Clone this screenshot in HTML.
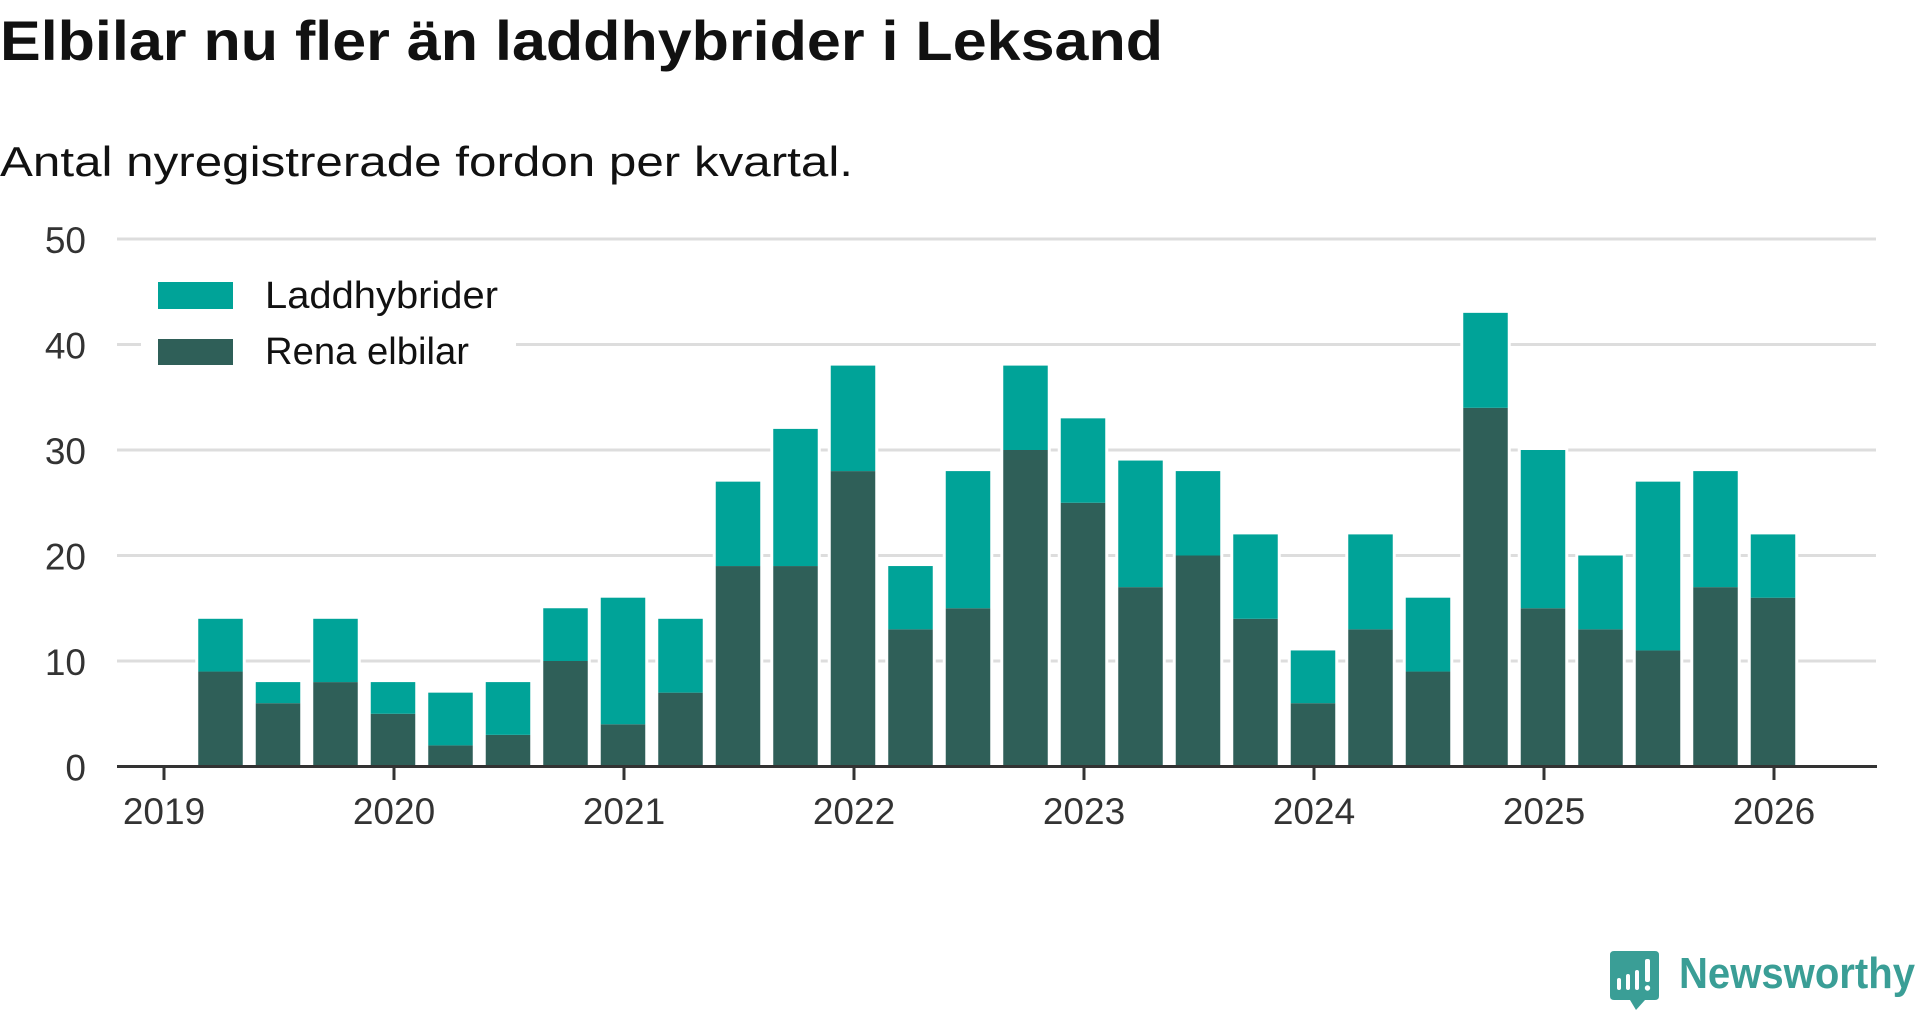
<!DOCTYPE html>
<html><head><meta charset="utf-8"><style>
html,body{margin:0;padding:0;background:#fff;width:1920px;height:1010px;overflow:hidden}
svg{display:block}
text{font-family:"Liberation Sans","DejaVu Sans",sans-serif}
</style></head><body>
<svg id="chart" width="1920" height="1010" viewBox="0 0 1920 1010" xmlns="http://www.w3.org/2000/svg">
<text x="0" y="60" font-size="56" font-weight="bold" fill="#111" textLength="1163" lengthAdjust="spacingAndGlyphs">Elbilar nu fler än laddhybrider i Leksand</text>
<text x="0" y="176" font-size="42" fill="#111" textLength="853" lengthAdjust="spacingAndGlyphs">Antal nyregistrerade fordon per kvartal.</text>
<g id="grid"></g>
<g id="bars"></g>
<g id="axes"></g>
<g>
<rect x="141" y="272" width="375" height="104" fill="#fff"/>
<rect x="158" y="282" width="75" height="27" fill="#00a398"/>
<text x="265" y="308" font-size="38" fill="#111" textLength="233" lengthAdjust="spacingAndGlyphs">Laddhybrider</text>
<rect x="158" y="339" width="75" height="26" fill="#2f5f58"/>
<text x="265" y="364" font-size="38" fill="#111" textLength="204" lengthAdjust="spacingAndGlyphs">Rena elbilar</text>
</g>
<g>
<path d="M1614 951 H1655 Q1659 951 1659 955 V996 Q1659 1000 1655 1000 H1645 L1636 1010 L1630 1000 H1614 Q1610 1000 1610 996 V955 Q1610 951 1614 951 Z" fill="#3a9e96"/>
<rect x="1617" y="978" width="4" height="12" rx="2" fill="#fff"/>
<rect x="1626" y="974" width="4" height="16" rx="2" fill="#fff"/>
<rect x="1635" y="970" width="4" height="20" rx="2" fill="#fff"/>
<rect x="1645" y="959" width="5" height="23" rx="2" fill="#fff"/>
<circle cx="1647.5" cy="988" r="2.7" fill="#fff"/>
<text x="1679" y="988" font-size="44" font-weight="bold" fill="#3a9e96" textLength="236" lengthAdjust="spacingAndGlyphs">Newsworthy</text>
</g>
</svg>
<script>
const quarters = ["2019Q2","2019Q3","2019Q4","2020Q1","2020Q2","2020Q3","2020Q4","2021Q1","2021Q2","2021Q3","2021Q4","2022Q1","2022Q2","2022Q3","2022Q4","2023Q1","2023Q2","2023Q3","2023Q4","2024Q1","2024Q2","2024Q3","2024Q4","2025Q1","2025Q2","2025Q3","2025Q4","2026Q1"];
const renaElbilar = [9,6,8,5,2,3,10,4,7,19,19,28,13,15,30,25,17,20,14,6,13,9,34,15,13,11,17,16];
const laddhybrider = [5,2,6,3,5,5,5,12,7,8,13,10,6,13,8,8,12,8,8,5,9,7,9,15,7,16,11,6];
const yTicks = [0,10,20,30,40,50];
const yearLabels = ["2019","2020","2021","2022","2023","2024","2025","2026"];

const NS = "http://www.w3.org/2000/svg";
const y0 = 766.5, pxPerUnit = 10.55;
const yScale = v => y0 - v * pxPerUnit;
const yearX0 = 164, yearW = 230;
const xYear = (yr, q) => yearX0 + (yr - 2019) * yearW + (q - 1) * yearW / 4;
const xQuarter = s => xYear(+s.slice(0,4), +s.slice(5));
function mk(tag, attrs, parent){const e=document.createElementNS(NS,tag);for(const k in attrs)e.setAttribute(k,attrs[k]);parent.appendChild(e);return e;}

const grid = document.getElementById('grid');
const axes = document.getElementById('axes');
const bars = document.getElementById('bars');

yTicks.forEach(t=>{
  if(t>0){
    const l = mk('line',{x1:117,x2:1876,y1:yScale(t),y2:yScale(t),stroke:'#dddddd','stroke-width':3},grid);
    
    
  }
  const tx = mk('text',{x:86,y:yScale(t)+14,'font-size':37,fill:'#333','text-anchor':'end'},axes);
  tx.textContent = t;
  
  
});

const bw = 44.5;
const halo = document.createElementNS(NS,'g');
bars.appendChild(halo);
quarters.forEach((q,i)=>{
  const x = xQuarter(q) - 1 - bw/2;
  const e = renaElbilar[i], p = laddhybrider[i];
  mk('rect',{x:x-3,y:yScale(e+p)-3,width:bw+6,height:y0-yScale(e+p)+3,fill:'#fff'},halo);
  const r1 = mk('rect',{x:x,y:yScale(e),width:bw,height:y0-yScale(e),fill:'#2f5f58'},bars);
  
  
  const r2 = mk('rect',{x:x,y:yScale(e+p),width:bw,height:yScale(e)-yScale(e+p),fill:'#00a398'},bars);
  
  
});

const ax = mk('line',{x1:117,x2:1877,y1:y0,y2:y0,stroke:'#333','stroke-width':3},axes);


yearLabels.forEach((yl,i)=>{
  const x = yearX0 + i*yearW;
  const tk = mk('line',{x1:x,x2:x,y1:y0,y2:780,stroke:'#333','stroke-width':3},axes);
  
  
  const tx = mk('text',{x:x,y:824,'font-size':37,fill:'#333','text-anchor':'middle'},axes);
  tx.textContent = yl;
  
  
});
</script>
</body></html>
